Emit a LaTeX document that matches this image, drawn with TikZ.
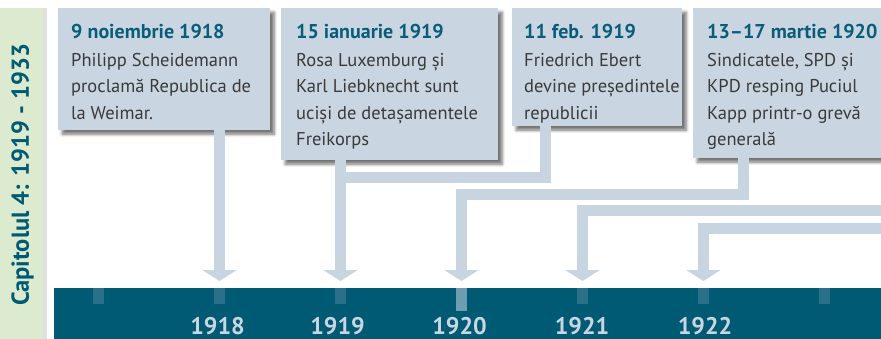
\documentclass[tikz,border=0pt]{standalone}
\usepackage{fontspec}
\setmainfont{PT Sans}
\usetikzlibrary{arrows.meta,shadows.blur}
\definecolor{teal}{HTML}{005A74}
\definecolor{titleteal}{HTML}{0A5D78}
\definecolor{boxfill}{HTML}{C9D5E1}
\definecolor{arrowc}{HTML}{C8D4E0}
\definecolor{yearc}{HTML}{C9D6E2}
\definecolor{tickc}{HTML}{2A7089}
\definecolor{tickhi}{HTML}{6E9CB2}
\definecolor{greenstrip}{HTML}{DCEBD0}
\definecolor{bodytext}{HTML}{3A3A3A}
\tikzset{
  eventbox/.style={draw=none, fill=boxfill, anchor=north west, inner sep=0pt,
    blur shadow={shadow xshift=4pt, shadow yshift=-4pt, shadow blur steps=6, shadow blur radius=3pt, shadow opacity=55}},
  eventtext/.style={anchor=north west, inner sep=0pt, align=left, text=bodytext,
    font=\fontsize{18.5}{26.5}\selectfont},
  conn/.style={draw=arrowc, line width=11pt, line join=miter},
  connarrow/.style={conn, -{Triangle[width=34pt,length=11pt]}},
  ticksmall/.style={fill=tickc, draw=none, minimum width=11pt, minimum height=16pt, inner sep=0pt, anchor=north},
  yearlabel/.style={text=yearc, font=\fontsize{24}{24}\selectfont\bfseries, anchor=base, inner sep=0pt},
}
\newcommand{\evtitle}[1]{{\fontsize{20}{26.5}\selectfont\bfseries\color{titleteal}#1}\\[1.5pt]}
\begin{document}
\begin{tikzpicture}[x=1pt,y=-1pt]
\useasboundingbox (0,0) rectangle (881,339);
% sidebar
\node[fill=black!12, draw=none, anchor=north west, minimum width=47pt, minimum height=331pt, inner sep=0pt] (sideshadow) at (0,8) {};
\node[fill=greenstrip, draw=none, anchor=north west, minimum width=43pt, minimum height=331pt, inner sep=0pt] (side) at (0,8) {};
\node[rotate=90, text=teal, font=\fontsize{24.5}{24.5}\selectfont\bfseries, inner sep=0pt] (sidetext) at (22.5,175) {Capitolul 4: 1919 - 1933};
% timeline bar
\node[fill=teal, draw=none, anchor=north west, minimum width=827pt, minimum height=51pt, inner sep=0pt] (bar) at (54,288) {};
\foreach \x/\n in {98.5/a,219.5/b,340.5/c,582.5/e,703.5/f,824.5/g}
  \node[ticksmall] (tick\n) at (\x,288) {};
\node[ticksmall, fill=tickhi, minimum height=23pt] (tickd) at (461.5,288) {};
\node[yearlabel] (y1918) at (217.5,334) {1918};
\node[yearlabel] (y1919) at (337.5,334) {1919};
\node[yearlabel] (y1920) at (459.5,334) {1920};
\node[yearlabel] (y1921) at (582,334) {1921};
\node[yearlabel] (y1922) at (705,334) {1922};
% boxes
\node[eventbox, minimum width=212pt, minimum height=122pt] (b1) at (58,8) {};
\node[eventbox, minimum width=217pt, minimum height=152pt] (b2) at (281,8) {};
\node[eventbox, minimum width=170pt, minimum height=118pt] (b3) at (512,8) {};
\node[eventbox, minimum width=200pt, minimum height=150pt] (b4) at (693,8) {};
\node[eventtext] (t1) at (71,24) {\evtitle{9 noiembrie 1918}Philipp Scheidemann\\proclamă Republica de\\la Weimar.};
\node[eventtext] (t2) at (296,24) {\evtitle{15 ianuarie 1919}Rosa Luxemburg și\\Karl Liebknecht sunt\\uciși de detașamentele\\Freikorps};
\node[eventtext] (t3) at (524,24) {\evtitle{11 feb. 1919}Friedrich Ebert\\devine președintele\\republicii};
\node[eventtext] (t4) at (707,24) {\evtitle{13–17 martie 1920}Sindicatele, SPD și\\KPD resping Puciul\\Kapp printr-o grevă\\generală};
% connector coordinates
\coordinate (a1918) at (219.5,281);
\coordinate (a1919) at (340.5,281);
\coordinate (a1920) at (461.5,281);
\coordinate (a1921) at (582.5,281);
\coordinate (a1922) at (703.5,281);
\coordinate (j3) at (335,178);
\coordinate (off1) at (885,211);
\coordinate (off2) at (885,229);
% connectors
\draw[connarrow] (b1.south -| a1918) -- (a1918);
\draw[connarrow] (b2.south -| a1919) -- (a1919);
\draw[conn] (b3.south -| 545,0) |- (j3);
\draw[connarrow] (b4.south -| 743,0) |- (461.5,195) -- (a1920);
\draw[connarrow] (off1) -| (a1921);
\draw[connarrow] (off2) -| (a1922);
\end{tikzpicture}
\end{document}
